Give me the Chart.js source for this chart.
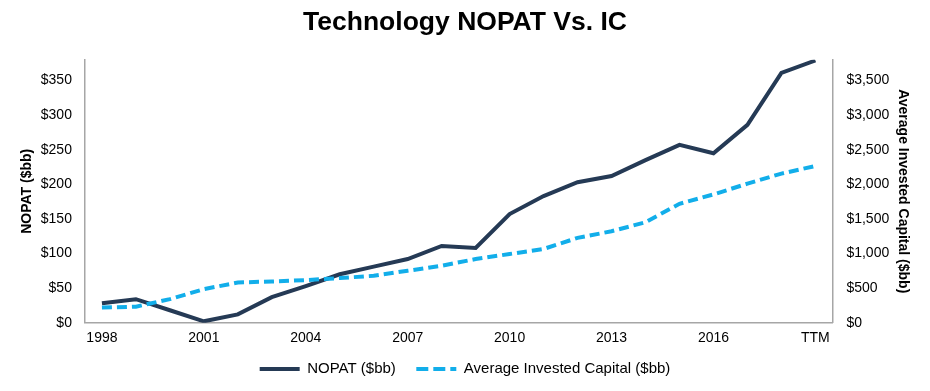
<!DOCTYPE html>
<html>
<head>
<meta charset="utf-8">
<script src="https://cdn.jsdelivr.net/npm/chart.js@4"></script>
<style>
  html, body { margin: 0; padding: 0; background: #fff; }
  #wrap { width: 930px; height: 391px; }
</style>
</head>
<body>
<div id="wrap"><canvas id="nopatChart"></canvas></div>
<script>
// categories and series
const years = ["1998", "1999", "2000", "2001", "2002", "2003", "2004", "2005", "2006", "2007",
    "2008", "2009", "2010", "2011", "2012", "2013", "2014", "2015", "2016", "2017", "2018", "TTM"];
const nopat = [28, 34, 18, 2, 12, 37, 53, 70, 81, 92, 111, 108, 157, 183, 203, 212, 235, 257, 245, 286, 361, 379];
const investedCapital = [218, 232, 340, 485, 581, 596, 616, 645, 678, 751, 823, 920, 993, 1066,
    1226, 1322, 1452, 1719, 1854, 2010, 2155, 2265];
const leftTicks = [0, 50, 100, 150, 200, 250, 300, 350];
const rightTicks = [0, 500, 1000, 1500, 2000, 2500, 3000, 3500];

Chart.defaults.font.family = "'Liberation Sans', Arial, sans-serif";
Chart.defaults.font.size = 14;
Chart.defaults.color = "#000";

const ctx = document.getElementById("nopatChart").getContext("2d");

new Chart(ctx, {
    type: "line",
    data: {
        labels: years,
        datasets: [{
            label: "NOPAT ($bb)",
            data: nopat,
            yAxisID: "y",
            borderColor: "#253A55",
            backgroundColor: "#253A55",
            borderWidth: 4,
            pointRadius: 0,
            tension: 0,
            pointStyle: "line",
            order: 2
        }, {
            label: "Average Invested Capital ($bb)",
            data: investedCapital,
            yAxisID: "y1",
            borderColor: "#12AEEA",
            backgroundColor: "#12AEEA",
            borderWidth: 4,
            borderDash: [10, 5],
            pointRadius: 0,
            tension: 0,
            pointStyle: "line",
            order: 1
        }]
    },
    options: {
        responsive: true,
        maintainAspectRatio: false,
        animation: false,
        layout: { padding: { left: 19, right: 19, top: 0, bottom: 4.5 } },
        plugins: {
            title: {
                display: true,
                text: "Technology NOPAT Vs. IC",
                font: { size: 26.5, weight: "bold" },
                color: "#000",
                padding: { top: 7, bottom: 21 }
            },
            legend: {
                position: "bottom",
                labels: {
                    usePointStyle: true,
                    pointStyleWidth: 40,
                    boxHeight: 15,
                    padding: 8,
                    font: { size: 15 },
                    sort: (a, b) => a.datasetIndex - b.datasetIndex,
                    generateLabels: chart => {
                        // legend samples: thick line, dashed for the IC series
                        const items = Chart.defaults.plugins.legend.labels.generateLabels(chart);
                        items.forEach(item => {
                            const ds = chart.data.datasets[item.datasetIndex];
                            item.lineWidth = 4;
                            item.lineDash = ds.borderDash ? [12, 5] : [];
                            item.strokeStyle = ds.borderColor;
                            if (item.datasetIndex === 0) item.text += "   "; // wider gap between the two entries
                        });
                        return items;
                    }
                }
            },
            tooltip: { enabled: false }
        },
        scales: {
            x: {
                offset: true,
                grid: { display: false, drawTicks: false },
                border: { display: true, color: "#A6A6A6", width: 1.5 },
                ticks: {
                    autoSkip: false,
                    maxRotation: 0,
                    padding: 7,
                    callback: function (value, index) {
                        return index % 3 === 0 ? years[index] : "";
                    }
                }
            },
            y: {
                position: "left",
                min: 0,
                max: 380,
                grid: { display: false, drawTicks: false },
                border: { display: true, color: "#A6A6A6", width: 1.5 },
                afterBuildTicks: axis => { axis.ticks = leftTicks.map(v => ({ value: v })); },
                ticks: {
                    padding: 13,
                    callback: value => "$" + value
                },
                title: {
                    display: true,
                    text: "NOPAT ($bb)",
                    font: { size: 14, weight: "bold" },
                    padding: { top: 0, bottom: -8 }
                }
            },
            y1: {
                position: "right",
                min: 0,
                max: 3800,
                grid: { display: false, drawTicks: false },
                border: { display: true, color: "#A6A6A6", width: 1.5 },
                afterBuildTicks: axis => { axis.ticks = rightTicks.map(v => ({ value: v })); },
                ticks: {
                    padding: 14,
                    callback: value => "$" + value.toLocaleString("en-US")
                },
                title: {
                    display: true,
                    text: "Average Invested Capital ($bb)",
                    font: { size: 14, weight: "bold" },
                    padding: { top: 0, bottom: -9 }
                }
            }
        }
    }
});
</script>
</body>
</html>
